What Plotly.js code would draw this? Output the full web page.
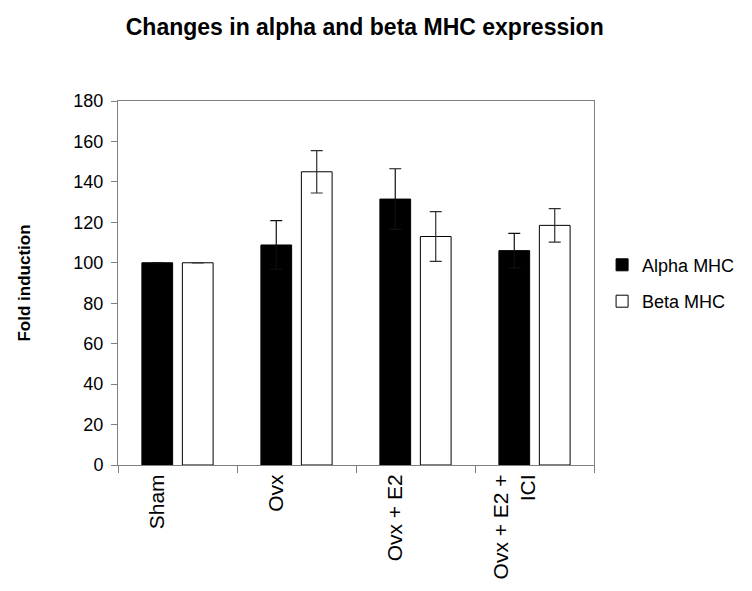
<!DOCTYPE html>
<html>
<head>
<meta charset="utf-8">
<script src="https://cdn.plot.ly/plotly-3.0.1.min.js"></script>
<style>html,body{margin:0;padding:0;background:#fff;}</style>
</head>
<body>
<div id="chart" style="width:752px;height:591px;"></div>
<script>
const categories = ["Sham", "Ovx", "Ovx + E2", "Ovx + E2 +<br>ICI"];
const alphaValues = [100, 108.8, 131.5, 106];
const alphaErrors = [0, 12, 15, 8.5];
const betaValues = [100, 145, 113, 118.5];
const betaErrors = [0, 10.5, 12.3, 8.3];
const yTicks = [0, 20, 40, 60, 80, 100, 120, 140, 160, 180];

const FONT = "Liberation Sans, Arial, sans-serif";

const traces = [
  {
    type: "bar", name: "Alpha MHC", x: categories, y: alphaValues,
    legendgroup: "a",
    marker: {color: "#000000", line: {color: "#000000", width: 1}},
    error_y: {type: "data", array: alphaErrors, visible: true, color: "#101010", thickness: 1.2, width: 6}
  },
  {
    type: "bar", name: "Beta MHC", x: categories, y: betaValues,
    legendgroup: "b",
    marker: {color: "#ffffff", line: {color: "#000000", width: 1}},
    error_y: {type: "data", array: betaErrors, visible: true, color: "#303030", thickness: 1.2, width: 6}
  }
];

const layout = {
  width: 752, height: 591,
  margin: {l: 118, r: 153, t: 101, b: 126, pad: 0},
  paper_bgcolor: "#ffffff", plot_bgcolor: "#ffffff",
  font: {family: FONT, color: "#000000"},
  title: {
    text: "<b>Changes in alpha and beta MHC expression</b>",
    font: {family: FONT, size: 23, color: "#000000"},
    x: 0.485, xref: "container", xanchor: "center",
    y: 0.955, yref: "container", yanchor: "middle"
  },
  barmode: "group", bargap: 0.32, bargroupgap: 0.24,
  showlegend: true,
  legend: {
    x: 1.017, xanchor: "left", y: 0.6, yanchor: "top",
    font: {family: FONT, size: 18, color: "#000000"},
    traceorder: "grouped", tracegroupgap: 10,
    bgcolor: "rgba(0,0,0,0)", borderwidth: 0
  },
  xaxis: {
    type: "category",
    showline: true, linecolor: "#808080", linewidth: 1, mirror: true,
    ticks: "outside", tickson: "boundaries", ticklen: 7, tickcolor: "#808080",
    tickangle: -90, ticklabelshift: -20,
    tickfont: {family: FONT, size: 21, color: "#000000"},
    showgrid: false, zeroline: false, fixedrange: true
  },
  yaxis: {
    range: [0, 180], tickvals: yTicks, ticktext: yTicks.map(String),
    showline: true, linecolor: "#808080", linewidth: 1, mirror: true,
    ticks: "outside", ticklen: 6, tickcolor: "#808080",
    ticklabelstandoff: 4,
    tickfont: {family: FONT, size: 18, color: "#000000"},
    showgrid: false, zeroline: false, fixedrange: true,
    title: {text: "<b>Fold induction</b>", font: {family: FONT, size: 17, color: "#000000"}, standoff: 38}
  }
};

Plotly.newPlot("chart", traces, layout, {displayModeBar: false, staticPlot: true});
</script>
</body>
</html>
